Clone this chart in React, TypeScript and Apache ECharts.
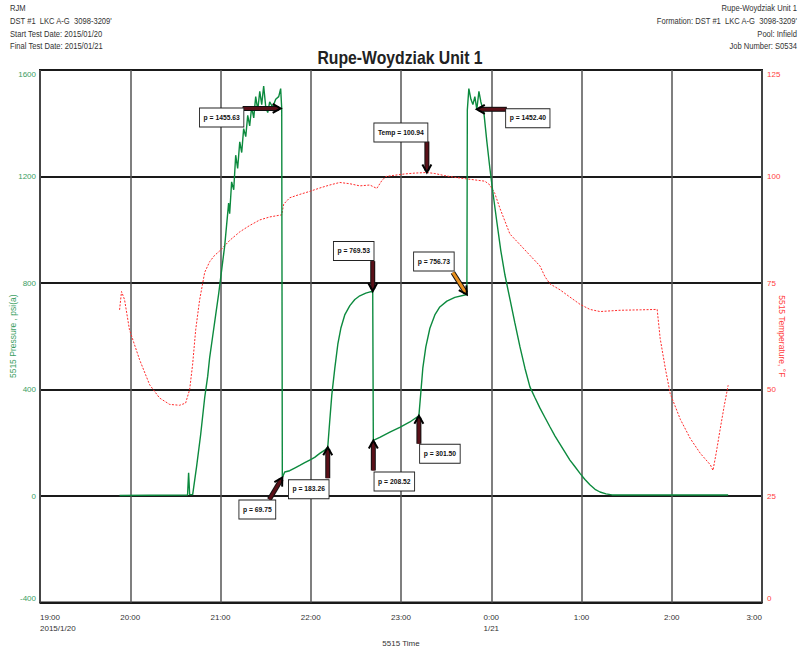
import React, { useEffect, useRef } from 'react';
import * as echarts from 'echarts';

// ---------- DATA ----------
const timeTickLabels = ['19:00', '20:00', '21:00', '22:00', '23:00', '0:00', '1:00', '2:00', '3:00'];
const dateTickLabels = ['2015/1/20', '', '', '', '', '1/21', '', '', ''];

const chartTitle = 'Rupe-Woydziak Unit 1';
const headerLeft = ['RJM', "DST #1  LKC A-G  3098-3209'", 'Start Test Date: 2015/01/20', 'Final Test Date: 2015/01/21'];
const headerRight = ['Rupe-Woydziak Unit 1', "Formation: DST #1  LKC A-G  3098-3209'", 'Pool: Infield', 'Job Number: S0534'];

// elapsed minutes since 19:00 on 2015/01/20
const pressureMin = [
  52.9, 72.9, 98.1, 98.8, 99.5, 101.5, 104.1, 106.8, 109.5, 111.5,
  112.8, 114.8, 116.8, 118.8, 120.8, 122.8, 124.1, 125.4, 126.1, 127.4,
  128.8, 130.1, 131.4, 132.8, 134.1, 135.4, 136.8, 138.1, 139.4, 140.7,
  142.1, 143.4, 144.8, 146.1, 147.4, 148.7, 150.1, 151.4, 152.7, 154.7,
  156.7, 158.7, 160.0, 160.7, 161.1, 162.7, 166.0, 169.3, 172.7, 176.0,
  179.3, 182.6, 186.0, 189.3, 191.3, 192.6, 194.0, 196.0, 198.0, 200.0,
  202.6, 206.0, 209.3, 212.6, 216.6, 221.2, 221.6, 225.9, 232.6, 239.2,
  245.9, 251.9, 253.2, 254.5, 256.5, 259.2, 262.5, 265.8, 270.5, 275.8,
  283.8, 284.1, 285.1, 286.5, 287.8, 289.1, 290.4, 291.8, 293.1, 295.1,
  297.1, 299.1, 301.1, 303.7, 306.4, 309.1, 312.4, 315.7, 319.1, 322.4,
  325.7, 329.0, 332.4, 335.7, 339.0, 342.4, 345.7, 349.0, 352.3, 355.7,
  359.0, 362.3, 365.6, 369.0, 372.3, 376.3, 380.3, 457.5,
];
const pressurePsi = [
  2, 3, 4, 87, 5, 5, 110, 230, 370, 450,
  520, 600, 680, 760, 850, 940, 1020, 1100, 1060, 1180,
  1150, 1280, 1230, 1330, 1290, 1380, 1350, 1430, 1390, 1460,
  1420, 1500, 1450, 1520, 1470, 1540, 1460, 1440, 1480, 1460,
  1490, 1500, 1530, 1455.63, 69.75, 90, 95, 105, 115, 125,
  135, 145, 160, 172, 183.26, 280, 380, 480, 570, 630,
  680, 715, 738, 752, 762, 769.53, 208.52, 220, 240, 258,
  278, 301.5, 390, 480, 560, 630, 680, 710, 732, 746,
  756.73, 1450, 1530, 1490, 1470, 1500, 1452.4, 1520, 1480, 1440,
  1330, 1230, 1140, 1030, 920, 830, 740, 650, 560, 480,
  410, 370, 330, 295, 260, 225, 195, 165, 135, 110,
  85, 62, 42, 25, 15, 8, 4, 4,
];

const tempMin = [
  52.9, 54.2, 56.2, 59.5, 66.2, 72.9, 79.5, 86.2, 92.8, 96.8,
  99.5, 101.5, 103.5, 106.1, 109.5, 112.8, 116.1, 119.4, 126.1, 132.8,
  139.4, 146.1, 152.7, 160.7, 162.0, 166.0, 172.7, 179.3, 186.0, 192.6,
  199.3, 206.0, 212.6, 219.3, 223.9, 227.2, 229.9, 235.9, 242.5, 249.2,
  257.2, 262.5, 269.1, 275.8, 282.5, 289.1, 295.8, 299.1, 302.4, 305.8,
  309.1, 312.4, 319.1, 325.7, 332.4, 335.7, 339.0, 345.7, 352.3, 359.0,
  365.6, 372.3, 385.6, 399.0, 410.3, 412.3, 415.7, 419.0, 425.7, 432.3,
  439.0, 445.7, 447.4, 449.5, 452.1, 454.8, 457.5,
];
const tempF = [
  68.7, 73, 71.1, 64, 57, 51.1, 48, 46.5, 46.3, 46.8,
  50, 56, 64, 71, 77.5, 80, 81.5, 82.5, 85, 87,
  88.5, 89.8, 90.5, 91, 93.5, 95, 95.8, 96.5, 97.3, 98,
  98.6, 98.3, 97.8, 98, 97.2, 99, 100, 100.3, 100.6, 100.8,
  100.94, 100.7, 100.2, 99.8, 99.5, 99.2, 98.9, 98, 96, 92.5,
  89.5, 86.5, 84, 81.5, 79, 76.5, 74.8, 73.4, 71.7, 70,
  68.8, 68.3, 68.6, 68.7, 68.8, 62, 55, 49, 43, 38.5,
  35, 32.3, 31, 35, 40.5, 46, 51,
];

const annotationLabels = ['p = 1455.63', 'Temp = 100.94', 'p = 769.53', 'p = 756.73', 'p = 69.75', 'p = 183.26', 'p = 208.52', 'p = 301.50', 'p = 1452.40'];
const annotationMin = [160.0, 257.2, 221.2, 283.8, 161.1, 191.3, 221.6, 251.9, 290.4];
const annotationValue = [1455.63, 100.94, 769.53, 756.73, 69.75, 183.26, 208.52, 301.5, 1452.4];
const annotationAxis = [0, 1, 0, 0, 0, 0, 0, 0, 0];

// ---------- LAYOUT (pixel offsets of label box / arrow start from the marked point) ----------
const annotationLayout = [
  { box: [-59, 9], from: [-38, 0], shaft: '#5a1018' },
  { box: [-26, -40], from: [0, -31], shaft: '#5a1018' },
  { box: [-19, -40], from: [0, -30], shaft: '#5a1018' },
  { box: [-33, -33], from: [-14, -22], shaft: '#e8901e' },
  { box: [-25, 32], from: [-13, 22], shaft: '#5a1018' },
  { box: [-19, 42], from: [0, 31], shaft: '#5a1018' },
  { box: [21, 41], from: [0, 30], shaft: '#5a1018' },
  { box: [21, 38], from: [0, 28], shaft: '#5a1018' },
  { box: [51, 9], from: [30, 0], shaft: '#5a1018' },
];

const FONT = "'Liberation Sans Narrow', 'Arial Narrow', 'Liberation Sans', Arial, sans-serif";
const GREEN = '#0c8a3e';
const GREEN_TXT = '#3a9e62';
const RED = '#ff2a2a';
const RED_TXT = '#ff4040';

function arrow(sx: number, sy: number, tx: number, ty: number, color: string) {
  const dx = tx - sx, dy = ty - sy;
  const len = Math.hypot(dx, dy) || 1;
  const ux = dx / len, uy = dy / len;
  const L = 8, W = 4.5;
  const bx = tx - ux * L, by = ty - uy * L;
  const px = -uy, py = ux;
  const ex = tx - ux * 2, ey = ty - uy * 2;
  return [
    { type: 'line', z: 100, shape: { x1: sx, y1: sy, x2: ex, y2: ey }, style: { stroke: '#111', lineWidth: 5 } },
    { type: 'line', z: 101, shape: { x1: sx, y1: sy, x2: ex, y2: ey }, style: { stroke: color, lineWidth: 3 } },
    {
      type: 'polyline', z: 102,
      shape: { points: [[bx + px * W, by + py * W], [tx, ty], [bx - px * W, by - py * W]] },
      style: { stroke: '#000', lineWidth: 2, fill: null },
    },
  ];
}

export default function App() {
  const ref = useRef<HTMLDivElement>(null);

  useEffect(() => {
    if (!ref.current) return;
    const chart = echarts.init(ref.current, null, { renderer: 'svg' });
    const option: any = {
      animation: false,
      backgroundColor: '#fff',
      grid: {
        left: 40, right: 41, top: 70, bottom: 44.5,
        containLabel: false, outerBoundsMode: 'none',
        show: true, borderColor: '#1a1a1a', borderWidth: 2,
      },
      xAxis: {
        type: 'value', min: 0, max: 480, interval: 60,
        axisLine: { show: false }, axisTick: { show: false },
        splitLine: { show: true, lineStyle: { color: '#555', width: 1.5 } },
        axisLabel: {
          formatter: (v: number) => {
            const i = Math.round(v / 60);
            return dateTickLabels[i] ? timeTickLabels[i] + '\n' + dateTickLabels[i] : timeTickLabels[i];
          },
          color: '#333', fontSize: 8, fontFamily: FONT, margin: 9, lineHeight: 11.5,
          verticalAlign: 'top', alignMinLabel: 'left', alignMaxLabel: 'right',
        },
        name: '5515 Time', nameLocation: 'middle', nameGap: 29,
        nameTextStyle: { color: '#333', fontSize: 8, fontFamily: FONT },
      },
      yAxis: [
        {
          type: 'value', min: -400, max: 1600, interval: 400, position: 'left',
          axisLine: { show: false }, axisTick: { show: false },
          splitLine: { show: true, lineStyle: { color: '#1a1a1a', width: 2 } },
          axisLabel: {
            formatter: (v: number) => String(v),
            color: GREEN_TXT, fontSize: 8, fontFamily: FONT, margin: 4,
            verticalAlignMaxLabel: 'top', verticalAlignMinLabel: 'bottom',
          },
          name: '5515 Pressure , psi(a)', nameLocation: 'middle', nameGap: 23, nameRotate: 90,
          nameMoveOverlap: false,
          nameTextStyle: { color: GREEN_TXT, fontSize: 8.5, fontFamily: FONT },
        },
        {
          type: 'value', min: 0, max: 125, interval: 25, position: 'right',
          axisLine: { show: false }, axisTick: { show: false },
          splitLine: { show: false },
          axisLabel: {
            formatter: (v: number) => String(v),
            color: RED_TXT, fontSize: 8, fontFamily: FONT, margin: 5,
            verticalAlignMaxLabel: 'top', verticalAlignMinLabel: 'bottom',
          },
          name: '5515 Temperature, °F', nameLocation: 'middle', nameGap: 15, nameRotate: -90,
          nameMoveOverlap: false,
          nameTextStyle: { color: RED_TXT, fontSize: 8.5, fontFamily: FONT },
        },
      ],
      series: [
        {
          type: 'line', yAxisIndex: 1, showSymbol: false, z: 2,
          data: tempMin.map((m, i) => [m, tempF[i]]),
          lineStyle: { color: RED, width: 1, type: [2, 1.5] },
        },
        {
          type: 'line', yAxisIndex: 0, showSymbol: false, z: 3,
          data: pressureMin.map((m, i) => [m, pressurePsi[i]]),
          lineStyle: { color: GREEN, width: 1.4 },
        },
      ],
    };
    chart.setOption(option);

    const elements: any[] = [];
    elements.push({
      type: 'text', x: 400, y: 57, z: 100, scaleX: 0.83,
      style: { text: chartTitle, fontSize: 19, fontWeight: 'bold', fontFamily: FONT, fill: '#222', align: 'center', verticalAlign: 'middle' },
    });
    headerLeft.forEach((t, i) => {
      elements.push({
        type: 'text', x: 10, y: 8 + i * 12.7, z: 100, scaleX: 0.8,
        style: { text: t, fontSize: 9.5, fontFamily: FONT, fill: '#333', align: 'left', verticalAlign: 'middle' },
      });
    });
    headerRight.forEach((t, i) => {
      elements.push({
        type: 'text', x: 797, y: 8 + i * 12.7, z: 100, scaleX: 0.8,
        style: { text: t, fontSize: 9.5, fontFamily: FONT, fill: '#333', align: 'right', verticalAlign: 'middle' },
      });
    });
    annotationLabels.forEach((label, i) => {
      const pt = chart.convertToPixel({ xAxisIndex: 0, yAxisIndex: annotationAxis[i] }, [annotationMin[i], annotationValue[i]]) as number[];
      const lay = annotationLayout[i];
      elements.push(...arrow(pt[0] + lay.from[0], pt[1] + lay.from[1], pt[0], pt[1], lay.shaft));
      elements.push({
        type: 'text', x: pt[0] + lay.box[0], y: pt[1] + lay.box[1], z: 110, scaleX: 0.9,
        style: {
          text: label, fontSize: 7.5, fontWeight: 'bold', fontFamily: FONT, fill: '#111',
          align: 'center', verticalAlign: 'middle',
          backgroundColor: '#fff', borderColor: '#222', borderWidth: 1, padding: [5, 4],
        },
      });
    });
    chart.setOption({ graphic: { elements } });

    return () => chart.dispose();
  }, []);

  return <div ref={ref} style={{ position: 'fixed', left: 0, top: 0, width: 803, height: 647 }} />;
}
